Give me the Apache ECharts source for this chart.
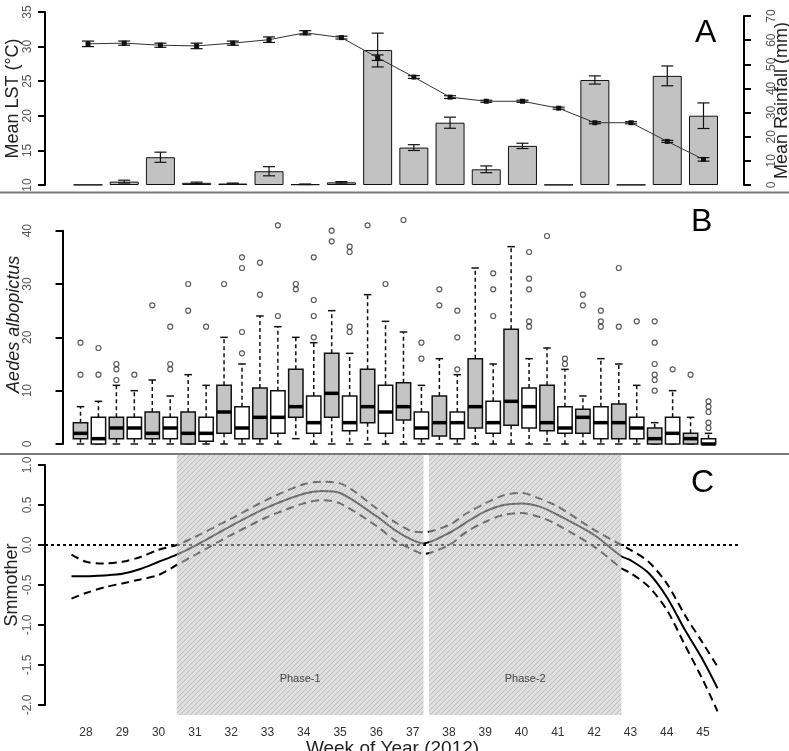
<!DOCTYPE html>
<html>
<head>
<meta charset="utf-8">
<script src="https://cdn.jsdelivr.net/npm/echarts@6/dist/echarts.min.js"></script>
<style>
  html, body { margin: 0; padding: 0; background: #fff; }
  #main { width: 789px; height: 751px; }
</style>
</head>
<body>
<div id="main"></div>
<script>
// ---- panel A: weekly land surface temperature and rainfall ----
const weeks = [28, 29, 30, 31, 32, 33, 34, 35, 36, 37, 38, 39, 40, 41, 42, 43, 44, 45];
const lst = [30.4, 30.5, 30.2, 30.1, 30.5, 31.0, 32.0, 31.3, 28.4, 25.6, 22.7, 22.1, 22.1, 21.1, 19.0, 19.0, 16.3, 13.7];
const lstErr = [0.4, 0.3, 0.3, 0.4, 0.3, 0.4, 0.3, 0.2, 0.4, 0.2, 0.2, 0.15, 0.15, 0.15, 0.15, 0.15, 0.15, 0.25];
const rain = [0.1, 1.4, 11.5, 0.9, 0.6, 5.7, 0.3, 1.1, 55.9, 15.5, 25.8, 6.5, 16.2, 0.1, 43.5, 0.1, 45.2, 28.7];
const rainErr = [0, 0.6, 2.1, 0.3, 0.2, 1.9, 0.1, 0.3, 7.0, 1.2, 2.3, 1.4, 1.1, 0, 1.7, 0, 4.1, 5.3];

// ---- panel B: Aedes albopictus counts, two boxes per week ----
const boxMin = [0, 0, 0, 0, 0, 0, 0, 0, 0, 0, 0, 0, 1, 0, 0, 0, 0, 0, 0, 0, 0, 0, 0, 0, 0, 0, 0, 0, 0, 0, 0, 0, 0, 0, 0, 0];
const boxQ1 = [1, 0, 1, 1, 1, 1, 0, 0.5, 2, 1, 1, 2, 5, 2, 5, 2.5, 4, 2, 4.5, 1, 1.5, 1, 3, 2, 3.5, 3, 2.5, 2, 2, 1, 1, 1, 0, 0, 0, 0];
const boxMed = [2, 1, 3, 3, 2, 3, 2, 2, 6, 3, 5, 5, 7, 4, 9.5, 4, 7, 6, 7, 3, 4, 4, 7, 4, 8, 7, 4, 3, 5, 4, 4, 3, 1, 2, 1, 0];
const boxQ3 = [4, 5, 5, 5, 6, 5, 6, 5, 11, 7, 10.5, 10, 14, 9, 17, 9, 14, 11, 11.5, 6, 9, 6, 16, 8, 21.5, 10.5, 11, 7, 6.5, 7, 7.5, 5, 3, 5, 2, 1];
const boxMax = [7, 8, 11, 10, 12, 9, 13, 11, 20, 15, 24, 22, 20, 19, 25, 17, 28, 23, 21, 11, 16, 13, 33, 15, 37, 16, 18, 14, 9, 16, 15, 11, 4, 10, 5, 2];
const boxOut = [
  [13, 19], [13, 18], [12, 14, 15], [13], [26], [14, 15, 22], [25, 30], [22], [30],
  [17, 21, 33, 35], [28, 34], [24, 41], [29, 30], [20, 24, 27, 35], [38, 40], [21, 22, 36, 37],
  [41], [30], [42], [16, 19], [26, 29], [14, 20, 25], [], [24, 29, 32], [], [22, 23, 29, 31, 36],
  [39], [15, 16], [26, 28], [22, 23, 25], [22, 33], [23], [10, 12, 13, 15, 19, 23], [14], [13], [3, 4, 6, 7, 8]
];

// ---- panel C: smoother with confidence band ----
const smoothWeek = [27.6, 28, 28.5, 29, 29.5, 30, 30.5, 31, 32, 33, 34, 34.5, 35, 36, 36.5, 37, 37.3, 38, 38.5, 39, 39.5, 40, 40.5, 41, 42, 42.75, 43, 43.5, 44, 44.5, 45, 45.4];
const smoothMean = [-0.39, -0.39, -0.38, -0.36, -0.30, -0.21, -0.12, -0.01, 0.24, 0.47, 0.64, 0.675, 0.65, 0.36, 0.19, 0.06, 0.02, 0.15, 0.29, 0.42, 0.50, 0.52, 0.48, 0.375, 0.125, -0.14, -0.19, -0.35, -0.65, -1.06, -1.44, -1.79];
const smoothUpper = [-0.12, -0.21, -0.23, -0.21, -0.15, -0.06, 0.0, 0.10, 0.33, 0.57, 0.76, 0.79, 0.77, 0.46, 0.29, 0.17, 0.16, 0.25, 0.40, 0.52, 0.62, 0.65, 0.58, 0.48, 0.19, 0.0, -0.06, -0.21, -0.48, -0.875, -1.23, -1.52];
const smoothLower = [-0.67, -0.60, -0.53, -0.48, -0.43, -0.375, -0.25, -0.125, 0.125, 0.35, 0.52, 0.56, 0.52, 0.24, 0.06, -0.06, -0.11, 0.0, 0.17, 0.29, 0.375, 0.40, 0.35, 0.25, -0.02, -0.29, -0.35, -0.52, -0.81, -1.25, -1.69, -2.08];
const phaseStart = [30.5, 37.45];
const phaseEnd = [37.3, 42.75];
const phaseNames = ['Phase-1', 'Phase-2'];

const FONT = 'Liberation Sans';

function hatchPattern() {
  const c = document.createElement('canvas');
  c.width = 5; c.height = 5;
  const g = c.getContext('2d');
  g.fillStyle = 'rgba(195,195,195,0.55)';
  g.fillRect(0, 0, 5, 5);
  g.strokeStyle = 'rgba(160,160,160,0.5)';
  g.lineWidth = 1;
  g.beginPath();
  g.moveTo(0, 5); g.lineTo(5, 0);
  g.moveTo(-2.5, 2.5); g.lineTo(2.5, -2.5);
  g.moveTo(2.5, 7.5); g.lineTo(7.5, 2.5);
  g.stroke();
  return c;
}
const hatch = hatchPattern();

const yAxisBase = {
  type: 'value',
  nameLocation: 'middle',
  nameMoveOverlap: false,
  nameTextStyle: { fontSize: 18, color: '#222', fontFamily: FONT },
  axisLine: { show: true, lineStyle: { color: '#000', width: 2 } },
  axisTick: { show: true, length: 7, lineStyle: { color: '#000', width: 2 } },
  axisLabel: { rotate: 90, color: '#555', fontSize: 12, margin: 11, fontFamily: FONT },
  splitLine: { show: false }
};

function errorBar(params, api) {
  const x = api.value(0), lo = api.value(1), hi = api.value(2);
  if (hi - lo <= 0) return null;
  const a = api.coord([x, hi]);
  const b = api.coord([x, lo]);
  const hw = 6;
  const st = { stroke: '#111', lineWidth: 1.2 };
  return {
    type: 'group',
    children: [
      { type: 'line', shape: { x1: a[0], y1: a[1], x2: b[0], y2: b[1] }, style: st },
      { type: 'line', shape: { x1: a[0] - hw, y1: a[1], x2: a[0] + hw, y2: a[1] }, style: st },
      { type: 'line', shape: { x1: b[0] - hw, y1: b[1], x2: b[0] + hw, y2: b[1] }, style: st }
    ]
  };
}

function boxItem(params, api) {
  const pos = api.value(0);
  const lo = api.coord([pos, api.value(1)]);
  const q1 = api.coord([pos, api.value(2)]);
  const md = api.coord([pos, api.value(3)]);
  const q3 = api.coord([pos, api.value(4)]);
  const hi = api.coord([pos, api.value(5)]);
  const hw = api.size([0.8, 0])[0] / 2;
  const cw = api.size([0.42, 0])[0] / 2;
  const x = q1[0];
  const solid = { stroke: '#111', lineWidth: 1.5 };
  const dash = { stroke: '#111', lineWidth: 1.5, lineDash: [4, 3] };
  return {
    type: 'group',
    children: [
      { type: 'line', shape: { x1: x, y1: q3[1], x2: x, y2: hi[1] }, style: dash },
      { type: 'line', shape: { x1: x, y1: q1[1], x2: x, y2: lo[1] }, style: dash },
      { type: 'line', shape: { x1: x - cw, y1: hi[1], x2: x + cw, y2: hi[1] }, style: solid },
      { type: 'line', shape: { x1: x - cw, y1: lo[1], x2: x + cw, y2: lo[1] }, style: solid },
      { type: 'rect', shape: { x: x - hw, y: q3[1], width: hw * 2, height: q1[1] - q3[1] },
        style: { fill: params.dataIndex % 2 === 0 ? '#c4c4c4' : '#fff', stroke: '#111', lineWidth: 1.5 } },
      { type: 'line', shape: { x1: x - hw, y1: md[1], x2: x + hw, y2: md[1] }, style: { stroke: '#000', lineWidth: 3.5 } }
    ]
  };
}

function phaseItem(params, api) {
  const a = api.coord([api.value(0), 1.125]);
  const b = api.coord([api.value(1), -2.125]);
  const ty = api.coord([0, -1.675])[1];
  return {
    type: 'group',
    children: [
      { type: 'rect', shape: { x: a[0], y: a[1], width: b[0] - a[0], height: b[1] - a[1] },
        style: { fill: { image: hatch, repeat: 'repeat' } } },
      { type: 'text', z2: 10, x: (a[0] + b[0]) / 2, y: ty,
        style: { text: phaseNames[params.dataIndex], fill: '#444', fontSize: 11, fontFamily: FONT,
                 align: 'center', verticalAlign: 'middle' } }
    ]
  };
}

const chart = echarts.init(document.getElementById('main'), null, { renderer: 'canvas' });

const outlierPts = [];
boxOut.forEach((vals, i) => vals.forEach(v => outlierPts.push([i + 1, v])));

const gridBase = { left: 45, right: 46, containLabel: false, outerBoundsMode: 'none' };

const option = {
  animation: false,
  backgroundColor: '#fff',
  title: [
    { text: 'A', left: 690, top: 12, textStyle: { fontSize: 32, fontWeight: 'normal', color: '#000', fontFamily: FONT } },
    { text: 'B', left: 686, top: 201, textStyle: { fontSize: 32, fontWeight: 'normal', color: '#000', fontFamily: FONT } },
    { text: 'C', left: 686, top: 462, textStyle: { fontSize: 32, fontWeight: 'normal', color: '#000', fontFamily: FONT } }
  ],
  graphic: [
    { type: 'line', shape: { x1: 0, y1: 192.5, x2: 789, y2: 192.5 }, style: { stroke: '#7a7a7a', lineWidth: 2 } },
    { type: 'line', shape: { x1: 0, y1: 454, x2: 789, y2: 454 }, style: { stroke: '#7a7a7a', lineWidth: 2 } }
  ],
  grid: [
    Object.assign({}, gridBase, { top: 12, height: 173 }),
    Object.assign({}, gridBase, { top: 16, height: 169, right: 45 }),
    Object.assign({}, gridBase, { top: 230.67, height: 213.33 }),
    Object.assign({}, gridBase, { top: 455, height: 260, right: 49 }),
    Object.assign({}, gridBase, { top: 465, height: 240, right: 49 })
  ],
  xAxis: [
    { type: 'value', gridIndex: 0, min: 26.8124, max: 46.091, show: false },
    { type: 'value', gridIndex: 1, min: 26.8124, max: 46.119, show: false },
    { type: 'value', gridIndex: 2, min: -0.9785, max: 37.922, show: false },
    {
      type: 'value', gridIndex: 3, min: 26.87, max: 46.019,
      name: 'Week of Year (2012)', nameLocation: 'middle', nameGap: 24, nameMoveOverlap: false,
      nameTextStyle: { fontSize: 19, color: '#222', fontFamily: FONT },
      axisLine: { show: false }, axisTick: { show: false }, splitLine: { show: false },
      axisLabel: { customValues: weeks, color: '#333', fontSize: 12, margin: 12, fontFamily: FONT }
    },
    { type: 'value', gridIndex: 4, min: 0, max: 1, show: false }
  ],
  yAxis: [
    Object.assign({}, yAxisBase, { gridIndex: 0, min: 10, max: 35, interval: 5, name: 'Mean LST (°C)', nameGap: 23 }),
    Object.assign({}, yAxisBase, {
      gridIndex: 1, min: 0, max: 70, interval: 10, position: 'right', name: 'Mean Rainfall (mm)', nameGap: 29,
      axisLabel: Object.assign({}, yAxisBase.axisLabel, { margin: 22 })
    }),
    Object.assign({}, yAxisBase, {
      gridIndex: 2, min: 0, max: 40, interval: 10, name: 'Aedes albopictus', nameGap: 22,
      nameTextStyle: { fontSize: 18, color: '#222', fontFamily: FONT, fontStyle: 'italic', padding: [0, 0, 0, 26] }
    }),
    { type: 'value', gridIndex: 3, min: -2.125, max: 1.125, show: false, splitLine: { show: false } },
    Object.assign({}, yAxisBase, {
      gridIndex: 4, min: -2, max: 1, interval: 0.5, name: 'Smmother', nameGap: 24,
      axisLabel: Object.assign({}, yAxisBase.axisLabel, { formatter: v => v.toFixed(1) })
    })
  ],
  series: [
    {
      name: 'Rainfall', type: 'bar', xAxisIndex: 1, yAxisIndex: 1, barWidth: 29,
      data: weeks.map((w, i) => [w, rain[i]]),
      itemStyle: { color: '#c2c2c2', borderColor: '#111', borderWidth: 1 }
    },
    {
      name: 'Rainfall error', type: 'custom', xAxisIndex: 1, yAxisIndex: 1, z: 3,
      data: weeks.map((w, i) => [w, rain[i] - rainErr[i], rain[i] + rainErr[i]]),
      renderItem: errorBar
    },
    {
      name: 'LST', type: 'line', xAxisIndex: 0, yAxisIndex: 0, z: 4,
      data: weeks.map((w, i) => [w, lst[i]]),
      symbol: 'rect', symbolSize: 5, itemStyle: { color: '#111' },
      lineStyle: { color: '#333', width: 1 }
    },
    {
      name: 'LST error', type: 'custom', xAxisIndex: 0, yAxisIndex: 0, z: 4,
      data: weeks.map((w, i) => [w, lst[i] - lstErr[i], lst[i] + lstErr[i]]),
      renderItem: errorBar
    },
    {
      name: 'Counts', type: 'custom', xAxisIndex: 2, yAxisIndex: 2,
      data: boxMin.map((m, i) => [i + 1, m, boxQ1[i], boxMed[i], boxQ3[i], boxMax[i]]),
      renderItem: boxItem
    },
    {
      name: 'Outliers', type: 'scatter', xAxisIndex: 2, yAxisIndex: 2, clip: false,
      data: outlierPts, symbol: 'circle', symbolSize: 5,
      itemStyle: { color: 'rgba(0,0,0,0)', borderColor: '#333', borderWidth: 1.2 }
    },
    {
      name: 'Upper', type: 'line', xAxisIndex: 3, yAxisIndex: 3, showSymbol: false, smooth: 0.3,
      data: smoothWeek.map((w, i) => [w, smoothUpper[i]]),
      lineStyle: { color: '#000', width: 2, type: [8, 5] }
    },
    {
      name: 'Lower', type: 'line', xAxisIndex: 3, yAxisIndex: 3, showSymbol: false, smooth: 0.3,
      data: smoothWeek.map((w, i) => [w, smoothLower[i]]),
      lineStyle: { color: '#000', width: 2, type: [8, 5] }
    },
    {
      name: 'Smoother', type: 'line', xAxisIndex: 3, yAxisIndex: 3, showSymbol: false, smooth: 0.3,
      data: smoothWeek.map((w, i) => [w, smoothMean[i]]),
      lineStyle: { color: '#000', width: 2 },
      markLine: {
        silent: true, symbol: ['none', 'none'], label: { show: false },
        lineStyle: { color: '#000', width: 2, type: [3, 3] },
        data: [{ yAxis: 0 }]
      }
    },
    {
      name: 'Phases', type: 'custom', xAxisIndex: 3, yAxisIndex: 3, z: 10, silent: true,
      data: phaseStart.map((s, i) => [s, phaseEnd[i]]),
      renderItem: phaseItem
    }
  ]
};

chart.setOption(option);
</script>
</body>
</html>
